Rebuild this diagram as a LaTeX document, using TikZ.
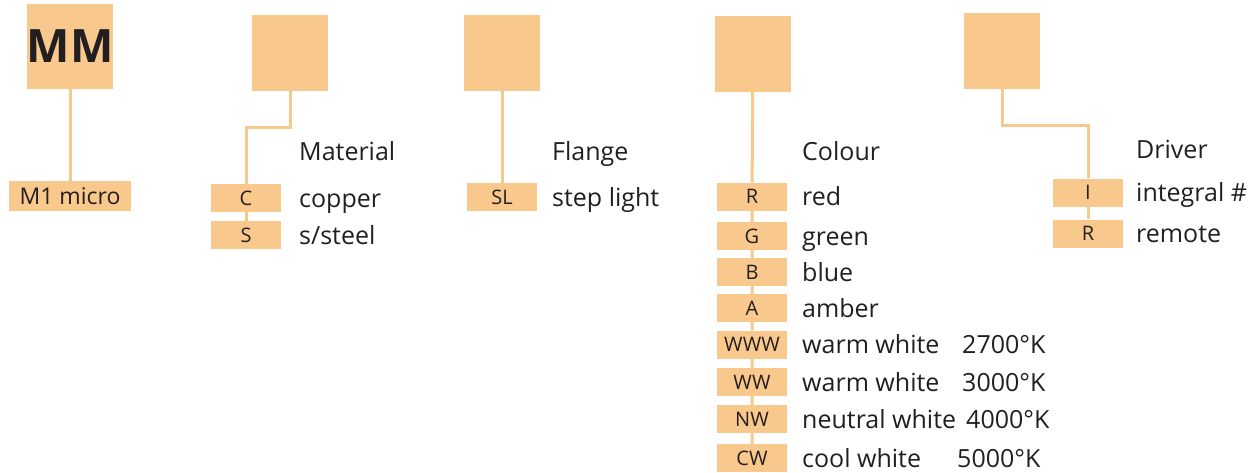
\documentclass[tikz,border=0pt]{standalone}
\usepackage{fontspec}
\setmainfont{Open Sans}
\definecolor{peach}{HTML}{F9C88C}
\definecolor{ink}{HTML}{231F20}
\tikzset{
  bigbox/.style={fill=peach, minimum width=76pt, minimum height=76pt, inner sep=0pt},
  codebox/.style={fill=peach, minimum width=70pt, minimum height=28pt, inner sep=0pt,
    text=ink, font=\fontsize{20}{20}\selectfont},
  lbl/.style={anchor=base west, inner sep=0pt, text=ink, font=\fontsize{25}{25}\selectfont},
  wire/.style={draw=peach, line width=3pt}
}
\begin{document}
\begin{tikzpicture}[x=1pt,y=-1pt]
\useasboundingbox (0,0) rectangle (1257,472);
% model
\node[bigbox, minimum width=86pt, minimum height=85pt, text=ink, font=\fontsize{46}{46}\selectfont\bfseries] (mm) at (70,46.5) {MM};
\node[codebox, minimum width=122pt, minimum height=30pt, font=\fontsize{23}{23}\selectfont] (micro) at (70,196) {M1 micro};
\draw[wire] (mm) -- (micro);
% material
\node[bigbox] (mat) at (290,53) {};
\node[codebox] (c) at (246,198) {C};
\node[codebox] (s) at (246,235) {S};
\draw[wire] (mat.south) -- ++(0,36) -| (c.north);
\draw[wire] (c) -- (s);
\node[lbl] (matT) at (299,160) {Material};
\node[lbl] (copper) at (299,207) {copper};
\node[lbl] (steel) at (299,244) {s/steel};
% flange
\node[bigbox] (fl) at (502,53) {};
\node[codebox] (sl) at (502,197) {SL};
\draw[wire] (fl) -- (sl);
\node[lbl] (flT) at (552,160) {Flange};
\node[lbl] (step) at (552,206) {step light};
% colour
\node[bigbox] (col) at (753,54) {};
\foreach \y/\code/\name in {196.5/R/red, 236/G/green, 272/B/blue, 308/A/amber,
    344.5/WWW/warm white, 382/WW/warm white, 419/NW/neutral white, 458/CW/cool white}{
  \node[codebox] (col-\code) at (752,\y) {\code};
  \node[lbl] (txt-\code) at (802,\y+9) {\name};
}
\draw[wire] (col) -- (col-R) -- (col-G) -- (col-B) -- (col-A) -- (col-WWW) -- (col-WW) -- (col-NW) -- (col-CW);
\node[lbl] (colT) at (802,160) {Colour};
\node[lbl] (k27) at (962,353.5) {2700°K};
\node[lbl] (k30) at (962,391) {3000°K};
\node[lbl] (k40) at (966,428) {4000°K};
\node[lbl] (k50) at (957,467) {5000°K};
% driver
\node[bigbox] (drv) at (1002,51) {};
\node[codebox] (i) at (1088,192.5) {I};
\node[codebox] (r) at (1088,233.5) {R};
\draw[wire] (drv.south) -- ++(0,36) -| (i.north);
\draw[wire] (i) -- (r);
\node[lbl] (drvT) at (1136,158) {Driver};
\node[lbl] (integral) at (1136,201.5) {integral \#};
\node[lbl] (remote) at (1136,242.5) {remote};
\end{tikzpicture}
\end{document}
